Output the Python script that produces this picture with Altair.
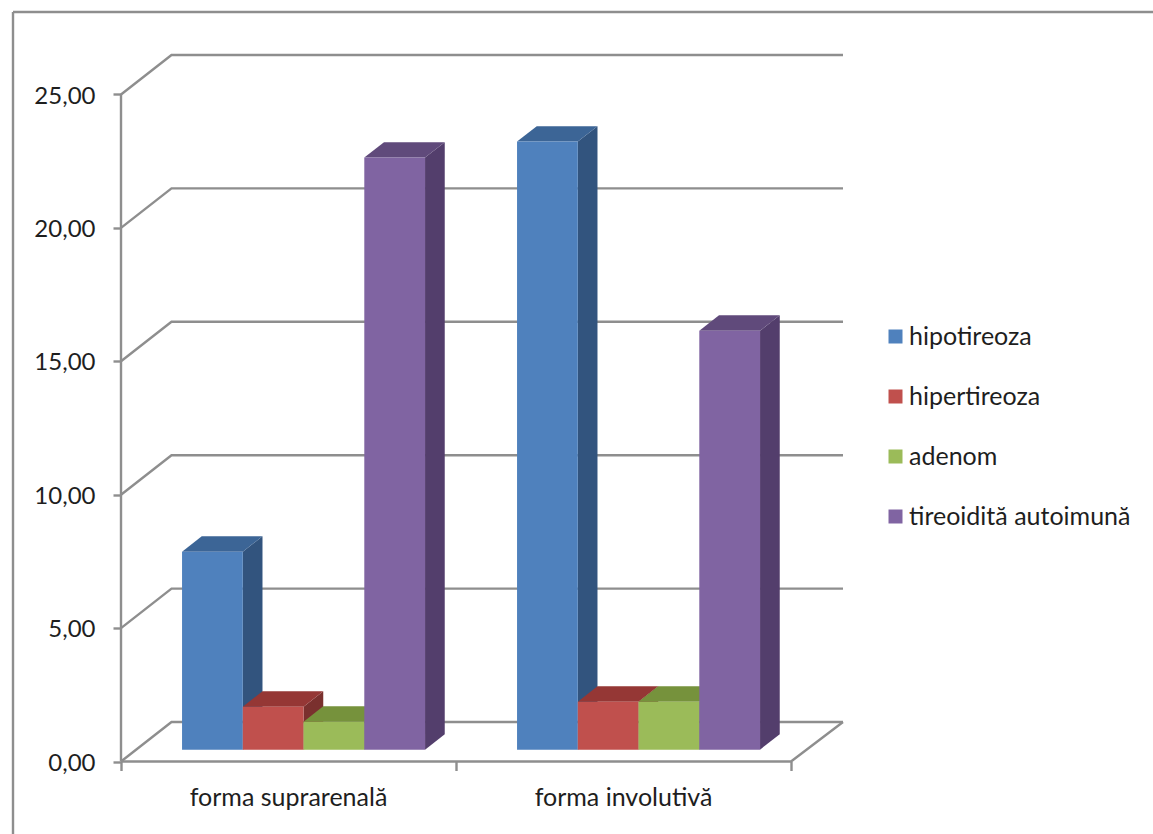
import altair as alt
import pandas as pd

# Series and categories
categories = ["forma suprarenală", "forma involutivă"]
series = ["hipotireoza", "hipertireoza", "adenom", "tireoidită autoimună"]
values = {
    "hipotireoza": [7.42, 22.79],
    "hipertireoza": [1.61, 1.80],
    "adenom": [1.05, 1.80],
    "tireoidită autoimună": [22.19, 15.70],
}
front_colors = ["#4F81BD", "#C0504D", "#9BBB59", "#8064A2"]
top_colors = ["#3C6596", "#953735", "#76923C", "#604A7B"]
side_colors = ["#32547E", "#7A302E", "#637C32", "#533E6C"]
y_ticks = [0, 5, 10, 15, 20, 25]

# Oblique projection: depth of the floor, expressed in axis units
PX_X, PX_Y = 335.0, 26.68
FLOOR_DX, FLOOR_DY = 50.5 / PX_X, 39.5 / PX_Y
BAR_SHIFT = 0.30          # how far into the floor the bars stand
BAR_DEPTH = 0.39          # bar depth as a share of the floor depth
BAR_W = 60.75 / PX_X
GROUP_START = 0.137
X_MAX, Y_MAX = 722 / PX_X, 706.5 / PX_Y

GRID = "#8E8E8E"
TEXT = "#1E1E1E"
FONT = "Lato"
LINE_W = 2.4

x_scale = alt.Scale(domain=[0, X_MAX], nice=False, zero=False)
y_scale = alt.Scale(domain=[0, Y_MAX], nice=False, zero=False)
color_scale = alt.Scale(domain=series, range=front_colors)

x_axis = alt.Axis(values=[0, 1, 2], labels=False, title=None, grid=False, domain=False,
                  tickColor=GRID, tickWidth=LINE_W, tickSize=9)
y_axis = alt.Axis(values=y_ticks, title=None, grid=False, domain=False,
                  tickColor=GRID, tickWidth=LINE_W, tickSize=8, labelPadding=18,
                  labelFont=FONT, labelFontSize=24, labelColor=TEXT, labelOffset=1.5,
                  labelExpr="replace(format(datum.value, '.2f'), '.', ',')")
X = alt.X("x:Q", scale=x_scale, axis=x_axis)
Y = alt.Y("y:Q", scale=y_scale, axis=y_axis)

# Wall and floor lines
wall_rows = []
for v in y_ticks:
    wall_rows += [
        {"line": f"g{v}", "x": 0, "y": v},
        {"line": f"g{v}", "x": FLOOR_DX, "y": v + FLOOR_DY},
        {"line": f"g{v}", "x": X_MAX, "y": v + FLOOR_DY},
    ]
wall_rows += [
    {"line": "axis", "x": 0, "y": 0},
    {"line": "axis", "x": 0, "y": 25},
    {"line": "front", "x": 0, "y": 0},
    {"line": "front", "x": 2, "y": 0},
    {"line": "front", "x": X_MAX, "y": FLOOR_DY},
]
walls = alt.Chart(pd.DataFrame(wall_rows)).mark_line(
    color=GRID, strokeWidth=LINE_W, strokeJoin="miter"
).encode(x=X, y=Y, detail="line:N")

# Outer frame of the chart, open on the right and at the bottom
frame = alt.Chart(pd.DataFrame({"k": [0]}))
frame_top = frame.mark_rule(color=GRID, strokeWidth=LINE_W).encode(
    x=alt.value(-108), x2=alt.value(1040), y=alt.value(-43))
frame_left = frame.mark_rule(color=GRID, strokeWidth=LINE_W).encode(
    x=alt.value(-108), y=alt.value(-43), y2=alt.value(779))

# Bar faces, painted series by series so nearer faces overlap correctly
base_x = FLOOR_DX * BAR_SHIFT
base_y = FLOOR_DY * BAR_SHIFT
dx = FLOOR_DX * BAR_DEPTH
dy = FLOOR_DY * BAR_DEPTH

layers = [walls, frame_top, frame_left]
for i, name in enumerate(series):
    front, side, top = [], [], []
    for c, cat in enumerate(categories):
        v = values[name][c]
        x0 = c + GROUP_START + base_x + i * BAR_W
        x1 = x0 + BAR_W
        y0, y1 = base_y, base_y + v
        front.append({"series": name, "cat": cat, "x": x0, "x2": x1, "y": y0, "y2": y1})
        side += [
            {"cat": cat, "x": x1, "y": y0, "y2": y1},
            {"cat": cat, "x": x1 + dx, "y": y0 + dy, "y2": y1 + dy},
        ]
        top += [
            {"cat": cat, "y": y1, "x": x0, "x2": x1},
            {"cat": cat, "y": y1 + dy, "x": x0 + dx, "x2": x1 + dx},
        ]
    layers.append(
        alt.Chart(pd.DataFrame(side)).mark_area(color=side_colors[i], orient="vertical").encode(
            x=X, y=Y, y2="y2:Q", detail="cat:N")
    )
    layers.append(
        alt.Chart(pd.DataFrame(top)).mark_area(color=top_colors[i], orient="horizontal").encode(
            x=X, x2="x2:Q", y=Y, detail="cat:N")
    )
    layers.append(
        alt.Chart(pd.DataFrame(front)).mark_rect().encode(
            x=X, x2="x2:Q", y=Y, y2="y2:Q",
            fill=alt.Fill("series:N", scale=color_scale, legend=alt.Legend(
                title=None, orient="none", legendX=762, legendY=269,
                symbolType="square", symbolSize=196, symbolStrokeWidth=0,
                labelFont=FONT, labelFontSize=25, labelColor=TEXT, labelOffset=1,
                rowPadding=34, labelLimit=300,
            )),
        )
    )

# Category names under the axis
labels = alt.Chart(pd.DataFrame({"name": categories, "x": [0.5, 1.5], "y": [0, 0]})).mark_text(
    font=FONT, fontSize=25, color=TEXT, baseline="middle", dy=36
).encode(x=X, y=Y, text="name:N")
layers.append(labels)

chart = alt.layer(*layers).properties(
    width=722, height=706.5,
    padding={"left": 121, "top": 55, "right": 310, "bottom": 72.5},
    autosize=alt.AutoSizeParams(type="none"),
    background="white",
).configure_view(stroke=None)

chart.save("out.html", embed_options={"renderer": "svg", "actions": False})
